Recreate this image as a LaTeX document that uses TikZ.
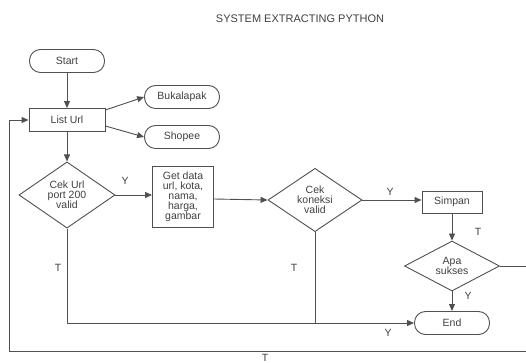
\documentclass[tikz,border=0pt]{standalone}
\usepackage{fontspec}
\setmainfont{Liberation Sans}
\usetikzlibrary{shapes.geometric,arrows.meta}
\definecolor{lineg}{HTML}{505050}
\definecolor{textg}{HTML}{404040}
\tikzset{
  every node/.style={text=textg,font=\fontsize{10.5}{10}\selectfont},
  flow/.style={draw=lineg,line width=0.9pt,-{Triangle[length=7pt,width=6pt]}},
  terminal/.style={draw=lineg,line width=0.9pt,rounded corners=11pt,minimum width=75pt,minimum height=23pt,inner sep=1pt},
  process/.style={draw=lineg,line width=0.9pt,minimum height=23pt,inner sep=2pt,align=center},
  decision/.style={draw=lineg,line width=0.9pt,diamond,inner sep=0pt,align=center},
  lbl/.style={font=\fontsize{10.5}{10}\selectfont}
}
\begin{document}
\begin{tikzpicture}[x=1pt,y=-1pt]
\useasboundingbox (0,0) rectangle (526,363);
\node (title) at (300,19) {\fontsize{11}{12}\selectfont SYSTEM EXTRACTING PYTHON};
% nodes
\node[terminal] (start) at (67,61) {Start};
\node[process,minimum width=76pt] (listurl) at (67,120) {List Url};
\node[terminal] (buka) at (182,97) {Bukalapak};
\node[terminal] (shopee) at (182,137) {Shopee};
\node[decision,minimum width=96pt,minimum height=56pt] (cekurl) at (67,195) {Cek Url\\port 200\\valid};
\node[process,minimum width=61pt,minimum height=61pt] (getdata) at (183,197) {Get data\\url, kota,\\nama,\\harga,\\gambar};
\node[decision,minimum width=94pt,minimum height=56pt] (koneksi) at (315,200) {Cek\\koneksi\\valid};
\node[process,minimum width=60pt,minimum height=22pt] (simpan) at (452,202) {Simpan};
\node[decision,minimum width=95pt,minimum height=36pt] (apa) at (452,266) {Apa\\sukses};
\node[terminal] (end) at (452,323) {End};
\coordinate (loopr) at (527,266);
\coordinate (loopb) at (9,351);
% connectors
\draw[flow] (start) -- (listurl);
\draw[flow] ([yshift=10pt]listurl.east) -- (buka.west);
\draw[flow] ([yshift=-6pt]listurl.east) -- (shopee.west);
\draw[flow] (listurl) -- (cekurl);
\draw[flow] (cekurl.east) -- (getdata.west |- cekurl.east);
\draw[flow] ([yshift=-2pt]getdata.east) -- (koneksi.west);
\draw[flow] (koneksi.east) -- (simpan.west |- koneksi.east);
\draw[flow] (simpan) -- (apa);
\draw[flow] (apa) -- (end);
\draw[flow] (cekurl.south) |- (end.west);
\draw[draw=lineg,line width=0.9pt] (koneksi.south) -- (koneksi.south |- end.west);
\draw[flow] (apa.east) -- (loopr) |- (loopb) |- (listurl.west);
% labels
\node[lbl] (y1) at (125,181) {Y};
\node[lbl] (t1) at (58,268) {T};
\node[lbl] (t2) at (294,268) {T};
\node[lbl] (y2) at (390,192) {Y};
\node[lbl] (t3) at (478,232) {T};
\node[lbl] (y3) at (468,296) {Y};
\node[lbl] (y4) at (388,333) {Y};
\node[lbl] (t4) at (265,358) {T};
\end{tikzpicture}
\end{document}
